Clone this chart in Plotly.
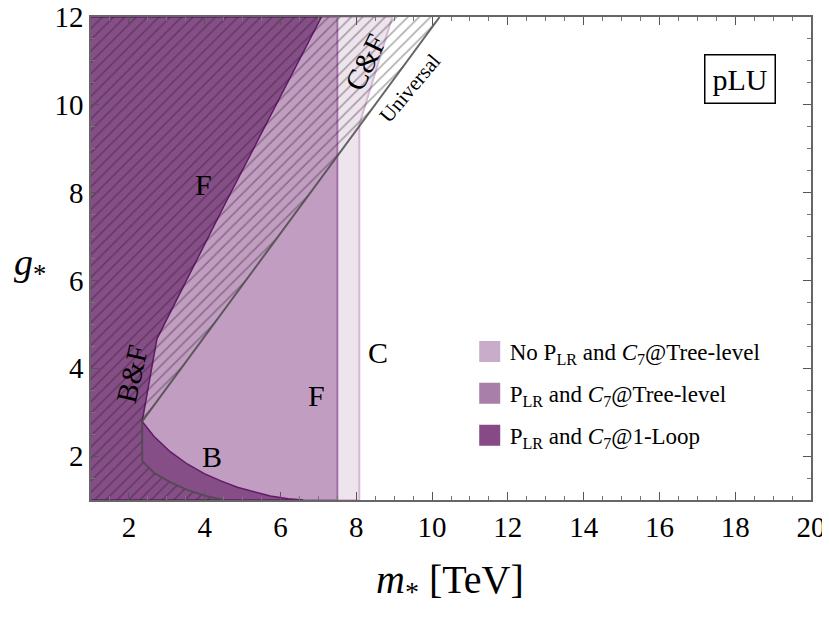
import plotly.graph_objects as go

# ---------------- data ----------------
# "No P_LR and C7@Tree-level" excluded region (lightest)
light_x = [1, 8.08, 8.08, 8.95, 1]
light_y = [1, 1, 9.55, 12, 12]

# "P_LR and C7@Tree-level" excluded region (medium)
medium_x = [1, 7.5, 7.5, 1]
medium_y = [1, 1, 12, 12]

# "P_LR and C7@1-Loop" excluded region (dark)
dark_x = [1, 7.08, 4.6, 2.74, 2.35, 2.66, 3.09, 3.54, 3.99, 4.41, 4.86, 5.3, 5.73, 6.2, 6.6, 1]
dark_y = [12, 12, 7.85, 4.67, 2.79, 2.45, 2.1, 1.82, 1.6, 1.44, 1.29, 1.18, 1.09, 1.03, 1.0, 1]

# "Universal" hatched region
univ_x = [1, 10.2, 2.35, 2.35, 2.66, 3.1, 3.54, 4.0, 4.5, 1]
univ_y = [12, 12, 2.79, 1.89, 1.62, 1.4, 1.23, 1.1, 1.0, 1]

legend_names = [
    "No P<sub>LR</sub> and <i>C</i><sub>7</sub>@Tree-level",
    "P<sub>LR</sub> and <i>C</i><sub>7</sub>@Tree-level",
    "P<sub>LR</sub> and <i>C</i><sub>7</sub>@1-Loop",
]
legend_colors = ["rgb(201,172,201)", "rgb(168,127,168)", "rgb(135,74,135)"]

region_labels = ["F", "B&amp;F", "B", "F", "C", "C&amp;F", "Universal"]
label_x = [3.96, 2.08, 4.2, 6.95, 8.58, 8.24, 9.42]
label_y = [8.18, 3.87, 2.0, 3.39, 4.37, 10.98, 10.38]
label_angle = [0, -77, 0, 0, 0, -64, -50]
label_size = [30, 29, 30, 30, 30, 29, 21]

x_ticks = [2, 4, 6, 8, 10, 12, 14, 16, 18, 20]
y_ticks = [2, 4, 6, 8, 10, 12]

FONT = "Liberation Serif"

fig = go.Figure()

fig.add_trace(go.Scatter(x=light_x, y=light_y, fill="toself", mode="lines",
                         fillcolor="rgb(237,228,237)",
                         line=dict(color="rgb(212,184,212)", width=2),
                         showlegend=False, hoverinfo="skip"))
fig.add_trace(go.Scatter(x=medium_x, y=medium_y, fill="toself", mode="lines",
                         fillcolor="rgb(193,157,193)",
                         line=dict(color="rgb(163,112,168)", width=2),
                         showlegend=False, hoverinfo="skip"))
fig.add_trace(go.Scatter(x=dark_x, y=dark_y, fill="toself", mode="lines",
                         fillcolor="rgb(134,78,134)",
                         line=dict(color="rgb(100,25,105)", width=1.5),
                         showlegend=False, hoverinfo="skip"))
fig.add_trace(go.Scatter(x=univ_x, y=univ_y, fill="toself", mode="lines",
                         fillcolor="rgba(0,0,0,0)",
                         fillpattern=dict(shape="/", size=8, solidity=0.2,
                                          fgcolor="rgba(35,25,35,0.72)",
                                          bgcolor="rgba(0,0,0,0)"),
                         line=dict(color="rgba(0,0,0,0)", width=0),
                         showlegend=False, hoverinfo="skip"))
fig.add_trace(go.Scatter(x=univ_x[1:9], y=univ_y[1:9], mode="lines",
                         line=dict(color="rgba(75,75,75,0.85)", width=2),
                         showlegend=False, hoverinfo="skip"))

for i, (name, col) in enumerate(zip(legend_names, legend_colors)):
    fig.add_trace(go.Scatter(x=[None], y=[None], mode="markers",
                             marker=dict(symbol="square", size=16, color=col,
                                         line=dict(color=col, width=5)),
                             name=name, legendgroup=f"g{i}", showlegend=True))

for t, xx, yy, a, s in zip(region_labels, label_x, label_y, label_angle, label_size):
    fig.add_annotation(x=xx, y=yy, text=t, textangle=a, showarrow=False,
                       font=dict(family=FONT, size=s, color="black"))

fig.add_annotation(x=18.12, y=10.59, text="pLU", showarrow=False,
                   font=dict(family=FONT, size=30, color="black"),
                   bordercolor="black", borderwidth=1.5, borderpad=7,
                   bgcolor="white")

# axis titles
fig.add_annotation(xref="paper", yref="paper", x=0.499, y=-0.170,
                   xanchor="center", yanchor="middle",
                   text="<i>m</i><sub>*</sub> [TeV]", showarrow=False,
                   font=dict(family=FONT, size=40, color="black"))
fig.add_annotation(xref="paper", yref="paper", x=-0.085, y=0.487,
                   xanchor="center", yanchor="middle",
                   text="<i>g</i><sub>*</sub>", showarrow=False,
                   font=dict(family=FONT, size=38, color="black"))

axis_common = dict(showgrid=False, zeroline=False, ticks="inside", mirror="allticks",
                   showline=True, linecolor="#666", linewidth=1.5,
                   ticklen=8, tickwidth=1, tickcolor="#555", automargin=False,
                   ticklabeloverflow="allow",
                   tickfont=dict(family=FONT, size=29, color="black"),
                   minor=dict(ticks="inside", ticklen=4, tickcolor="#777", dtick=0.5))

fig.update_xaxes(range=[1, 20], tickvals=x_ticks, **axis_common)
fig.update_yaxes(range=[1, 12], tickvals=y_ticks, **axis_common)

fig.update_layout(
    width=822, height=609,
    margin=dict(l=83, r=19, t=9, b=117, autoexpand=False),
    plot_bgcolor="white", paper_bgcolor="white",
    legend=dict(x=0.526, y=0.352, xanchor="left", yanchor="top",
                font=dict(family=FONT, size=23, color="black"),
                tracegroupgap=9, bgcolor="rgba(0,0,0,0)"),
)

fig.write_html("out.html")
